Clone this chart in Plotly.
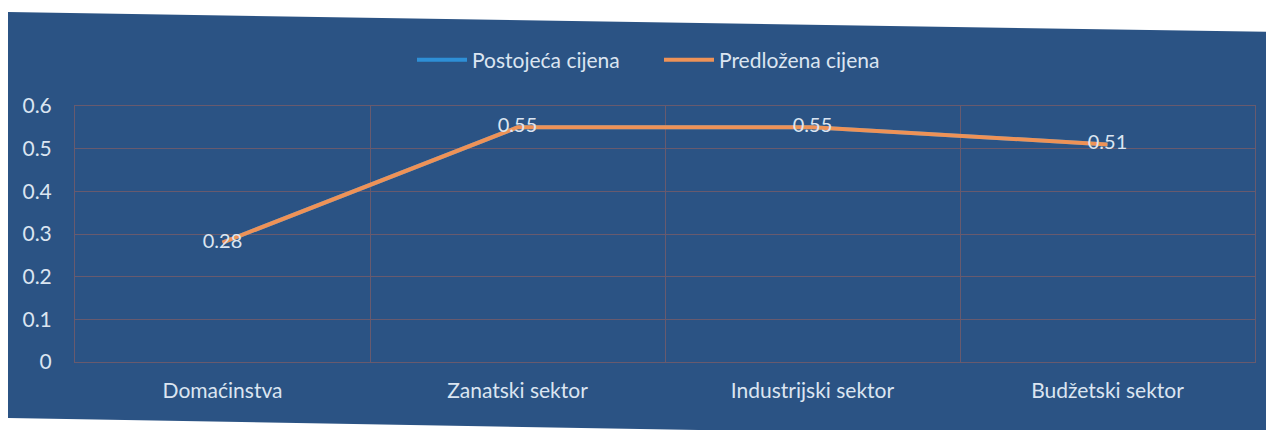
import plotly.graph_objects as go

categories = ["Domaćinstva", "Zanatski sektor", "Industrijski sektor", "Budžetski sektor"]
postojeca = [0.28, 0.55, 0.55, 0.51]
predlozena = [0.28, 0.55, 0.55, 0.51]
labels = ["0.28", "0.55", "0.55", "0.51"]
y_ticks = [0, 0.1, 0.2, 0.3, 0.4, 0.5, 0.6]

# page body has an 8px margin, so the figure is shifted by OFF
OFF = 8
W, H = 1274 - OFF, 430 - OFF
L, R, T, B = 75 - OFF, 19, 106 - OFF, 68

def px(x, y):
    # page pixel position -> paper coords
    x, y = x - OFF, y - OFF
    return (x - L) / (W - L - R), (H - B - y) / (H - T - B)

text_col = "#dbe5f1"
font = "Lato, 'Open Sans', sans-serif"
grid = "#685a6e"

fig = go.Figure()
fig.add_trace(go.Scatter(x=categories, y=postojeca, mode="lines",
                         name="Postojeća cijena",
                         line=dict(color="#2e8fd6", width=4)))
fig.add_trace(go.Scatter(x=categories, y=predlozena, mode="lines+text",
                         name="Predložena cijena", text=labels,
                         textposition="middle center",
                         textfont=dict(color=text_col, size=20, family=font),
                         line=dict(color="#ee9257", width=4)))

# blue scanned page area (slightly tilted)
corners = [px(8, 12), px(1274, 32), px(1274, 440), px(8, 418)]
path = "M " + " L ".join(f"{a},{b}" for a, b in corners) + " Z"

fig.update_layout(
    width=W, height=H,
    margin=dict(l=L, r=R, t=T, b=B, autoexpand=False),
    paper_bgcolor="white",
    plot_bgcolor="rgba(0,0,0,0)",
    font=dict(family=font, size=21, color=text_col),
    showlegend=True,
    legend=dict(orientation="h", x=px(412, 0)[0], xanchor="left",
                y=px(0, 60)[1], yanchor="middle",
                font=dict(size=21, color=text_col), bgcolor="rgba(0,0,0,0)",
                itemwidth=50, entrywidth=182, entrywidthmode="pixels"),
    shapes=[dict(type="path", xref="paper", yref="paper", path=path,
                 fillcolor="#2b5384", line=dict(width=0), layer="below")],
    xaxis=dict(type="category", range=[-0.5, 3.5], tickson="boundaries",
               showgrid=True, gridcolor=grid, gridwidth=1, showline=True,
               mirror=True, linecolor=grid, ticks="", ticklabelstandoff=10,
               tickfont=dict(size=21, color=text_col), zeroline=False,
               automargin=False),
    yaxis=dict(range=[0, 0.6], tickvals=y_ticks,
               ticktext=["0", "0.1", "0.2", "0.3", "0.4", "0.5", "0.6"],
               showgrid=True, gridcolor=grid, gridwidth=1, showline=True,
               mirror=True, linecolor=grid, ticks="", ticklabelstandoff=18,
               tickfont=dict(size=21, color=text_col), zeroline=False,
               automargin=False),
)

fig.write_html("out.html")
